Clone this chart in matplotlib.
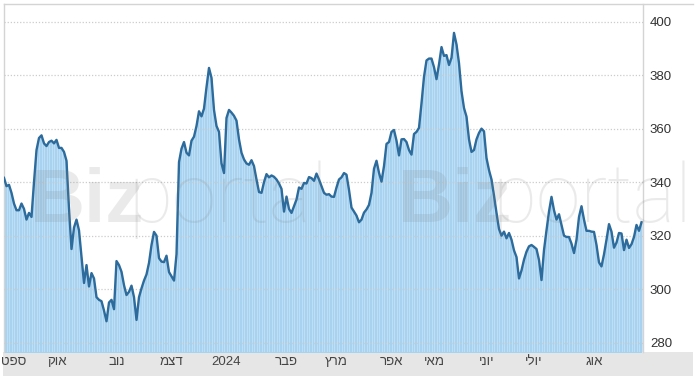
import matplotlib.pyplot as plt
import matplotlib.transforms as mtransforms
from matplotlib.patches import Rectangle
from matplotlib.lines import Line2D
import numpy as np

plt.rcParams['font.family'] = ['Liberation Sans', 'DejaVu Sans']

# daily closing prices, one value per trading day
prices = [
    341.6, 338.5, 339.0, 336.0, 332.0, 329.5, 329.5, 332.0, 330.0, 326.0,
    328.5, 327.0, 340.0, 352.0, 356.5, 357.5, 354.5, 353.5, 355.0, 355.5,
    354.5, 355.8, 352.8, 352.8, 351.3, 348.0, 330.0, 315.0, 323.0, 326.0,
    322.0, 312.0, 302.3, 309.0, 301.0, 306.0, 304.0, 297.0, 296.0, 295.5,
    292.0, 288.0, 295.0, 296.0, 292.5, 310.5, 309.0, 306.5, 301.5, 297.8,
    299.0, 301.3, 297.0, 288.5, 297.0, 300.3, 303.2, 305.5, 309.8, 316.5,
    321.4, 320.0, 311.6, 310.3, 310.1, 312.5, 306.4, 304.8, 303.2, 313.0,
    347.5, 352.5, 355.0, 351.0, 350.0, 355.5, 357.0, 361.0, 366.5, 364.6,
    367.5, 375.5, 382.7, 379.0, 367.0, 361.0, 358.8, 347.0, 343.4, 364.0,
    367.0, 366.0, 364.8, 363.0, 356.0, 351.0, 348.5, 347.0, 346.5, 348.2,
    346.0, 341.0, 336.3, 336.0, 340.0, 343.0, 341.8, 342.5, 342.0, 341.0,
    339.5, 337.5, 329.0, 334.6, 330.0, 328.5, 331.0, 333.5, 338.0, 337.5,
    339.7, 339.5, 341.9, 341.5, 340.5, 343.2, 341.0, 338.5, 336.0, 335.3,
    335.5, 334.6, 334.5, 338.0, 341.0, 341.8, 343.4, 342.8, 337.1, 330.5,
    329.0, 327.5, 325.0, 326.0, 328.6, 329.8, 331.5, 336.0, 345.0, 348.0,
    343.5, 340.2, 346.0, 354.3, 355.0, 358.8, 359.5, 355.5, 350.0, 356.0,
    356.1, 355.0, 352.0, 350.3, 358.0, 358.8, 360.3, 369.5, 379.4, 385.5,
    386.2, 386.2, 383.0, 378.5, 384.0, 390.5, 387.2, 387.5, 383.8, 386.5,
    395.8, 391.5, 384.5, 374.0, 367.7, 364.5, 356.0, 351.3, 352.0, 356.0,
    358.4, 360.0, 359.0, 349.0, 344.5, 341.0, 335.0, 328.5, 322.5, 320.0,
    321.5, 319.0, 321.0, 318.5, 314.5, 312.0, 304.0, 307.0, 311.0, 314.0,
    316.0, 316.5, 315.8, 315.0, 310.9, 303.4, 314.6, 322.0, 329.0, 334.5,
    329.5, 326.0, 328.0, 324.0, 320.0, 319.5, 319.5, 317.0, 313.5, 318.5,
    327.0, 331.0, 326.0, 321.8, 321.8, 321.5, 321.4, 316.5, 310.0, 308.5,
    313.0, 318.5, 324.3, 321.5, 315.5, 317.4, 321.0, 320.8, 314.6, 318.5,
    315.4, 316.8, 319.5, 324.0, 321.8, 325.0,
]

month_pos = [4, 21, 45, 67, 89, 113, 133, 155, 172, 193, 212, 236]
month_labels = ['ספט', 'אוק', 'נוב', 'דצמ', '2024', 'פבר', 'מרץ', 'אפר',
                'מאי', 'יוני', 'יולי', 'אוג']
y_ticks = [280, 300, 320, 340, 360, 380, 400]


def visual(s):
    # matplotlib has no bidi support, so flip Hebrew words for display
    if any('\u0590' <= c <= '\u05ff' for c in s):
        return s[::-1]
    return s


W, H = 697, 377
fig = plt.figure(figsize=(W / 100, H / 100), dpi=100)
fig.patch.set_facecolor('white')

# gray date band under the plot
fig.patches.append(Rectangle((3 / W, 1 / H), 690 / W, 24 / H, transform=fig.transFigure,
                             facecolor='#e6e6e6', edgecolor='none', zorder=-5))
# top border reaching past the price axis
fig.lines.append(Line2D([4 / W, 693 / W], [1 - 4 / H, 1 - 4 / H], transform=fig.transFigure,
                        color='#d4d4d4', lw=1))

ax = fig.add_axes([4 / W, 25 / H, 639 / W, 348 / H])
x = np.arange(len(prices))
base = 270
ax.fill_between(x, prices, base, color='#a7d3f0', lw=0, zorder=1)
ax.vlines(x, base, prices, color='#c2e1f6', lw=0.6, zorder=1.5)
ax.plot(x, prices, color='#2c6b9b', lw=1.7, zorder=3, solid_joinstyle='round')

ax.set_xlim(0, len(prices) - 0.4)
ax.set_ylim(276.5, 406.6)
ax.set_xticks([])
ax.yaxis.tick_right()
ax.set_yticks(y_ticks)
ax.tick_params(axis='y', length=0, pad=5, labelsize=9.5, labelcolor='#333333')
ax.grid(axis='y', ls=(0, (1, 1.5)), color='#cccccc', lw=0.9, zorder=2)
ax.set_axisbelow(False)
for side in ['top', 'bottom']:
    ax.spines[side].set_visible(False)
for side in ['left', 'right']:
    ax.spines[side].set_color('#d4d4d4')
    ax.spines[side].set_linewidth(1)

trans = mtransforms.blended_transform_factory(ax.transData, fig.transFigure)
for p, lab in zip(month_pos, month_labels):
    ax.text(p, 1 - 362 / H, visual(lab), transform=trans, ha='center', va='center',
            fontsize=9.5, color='#444444', clip_on=False)

# watermark
for bx, px in [(30, 128), (398, 492)]:
    fig.text(bx / W, 1 - 222 / H, 'Biz', fontsize=55, fontweight='bold', color='#808080',
             alpha=0.16, ha='left', va='baseline',
             family=['Liberation Sans Narrow', 'Liberation Sans', 'DejaVu Sans'])
    fig.text(px / W, 1 - 222 / H, 'portal', fontsize=58, fontweight='light', color='#808080',
             alpha=0.16, ha='left', va='baseline', family=['Roboto', 'Lato', 'DejaVu Sans'])

fig.savefig('out.png', dpi=100)
